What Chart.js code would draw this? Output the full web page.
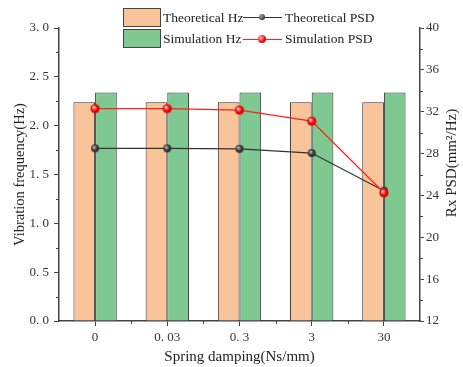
<!DOCTYPE html>
<html>
<head>
<meta charset="utf-8">
<script src="https://cdn.jsdelivr.net/npm/chart.js@4/dist/chart.umd.min.js"></script>
<style>
  html, body { margin: 0; padding: 0; background: #fff; }
  #wrap { position: relative; width: 463px; height: 367px; }
  #c { position: absolute; left: 0; top: 0; }
  .lg { position: absolute; font-family: "Liberation Serif", "Times New Roman", serif; font-size: 13.5px; color: #222; white-space: nowrap; line-height: 18px; }
  .box { position: absolute; width: 36px; height: 17px; border: 1px solid #444; }
  .ln { position: absolute; height: 0; width: 39px; }
  .dot { position: absolute; border-radius: 50%; }
</style>
</head>
<body>
<div id="wrap">
  <canvas id="c" width="463" height="367"></canvas>
  <div class="box" style="left:123px;top:8px;background:#F8C49A;"></div>
  <div class="lg" style="left:163px;top:9px;">Theoretical Hz</div>
  <div class="ln" style="left:243px;top:17px;border-top:1.2px solid #333;"></div>
  <div class="dot" style="left:259px;top:14px;width:6px;height:6px;background:radial-gradient(circle at 35% 35%,#aaa,#333 70%);"></div>
  <div class="lg" style="left:285px;top:9px;">Theoretical PSD</div>
  <div class="box" style="left:123px;top:29px;background:#7FC892;"></div>
  <div class="lg" style="left:163px;top:30px;">Simulation Hz</div>
  <div class="ln" style="left:243px;top:39px;border-top:1.2px solid #f22;"></div>
  <div class="dot" style="left:258px;top:35px;width:8px;height:8px;background:radial-gradient(circle at 35% 35%,#fbb,#e00 60%);"></div>
  <div class="lg" style="left:285px;top:30px;">Simulation PSD</div>
</div>
<script>
// ---- data ----
const categories = ['0', '0. 03', '0. 3', '3', '30'];
const theoreticalHz = [2.24, 2.24, 2.24, 2.24, 2.24];
const simulationHz = [2.34, 2.34, 2.34, 2.34, 2.34];
const theoreticalPSD = [28.5, 28.5, 28.45, 28.05, 24.45];
const simulationPSD = [32.3, 32.3, 32.15, 31.1, 24.25];
const leftTickLabels = ['0. 0', '0. 5', '1. 0', '1. 5', '2. 0', '2. 5', '3. 0'];
const rightTickLabels = ['12', '16', '20', '24', '28', '32', '36', '40'];

function sphere(r, light, dark) {
  const s = Math.ceil(r * 2) + 2;
  const cv = document.createElement('canvas');
  cv.width = s; cv.height = s;
  const g = cv.getContext('2d');
  const c = s / 2;
  const grd = g.createRadialGradient(c - r * 0.35, c - r * 0.35, 0.5, c, c, r);
  grd.addColorStop(0, light);
  grd.addColorStop(0.6, dark);
  grd.addColorStop(1, dark);
  g.fillStyle = grd;
  g.beginPath(); g.arc(c, c, r, 0, Math.PI * 2); g.fill();
  return cv;
}
const graySphere = sphere(4, '#bbbbbb', '#333333');
const redSphere = sphere(4.6, '#ffcccc', '#e60000');

const AX = '#444';
const tickFont = { family: '"Liberation Serif", "Times New Roman", serif', size: 13 };
const titleFont = { family: '"Liberation Serif", "Times New Roman", serif', size: 14.5 };

const minorTicks = {
  id: 'minorTicks',
  afterDraw(chart) {
    const ctx = chart.ctx;
    const x = chart.scales.x, y = chart.scales.y, y2 = chart.scales.y2;
    const ca = chart.chartArea;
    ctx.save();
    ctx.strokeStyle = AX;
    ctx.lineWidth = 1;
    ctx.beginPath();
    for (let v = 0.25; v < 3; v += 0.5) {
      const p = Math.round(y.getPixelForValue(v)) + 0.5;
      ctx.moveTo(ca.left - 3, p); ctx.lineTo(ca.left, p);
    }
    for (let v = 14; v < 40; v += 4) {
      const p = Math.round(y2.getPixelForValue(v)) + 0.5;
      ctx.moveTo(ca.right, p); ctx.lineTo(ca.right + 3, p);
    }
    for (let i = 0; i < categories.length - 1; i++) {
      const p = Math.round(x.getPixelForValue(i + 0.5)) + 0.5;
      ctx.moveTo(p, ca.bottom); ctx.lineTo(p, ca.bottom + 3);
    }
    ctx.stroke();
    // right axis title (reads bottom to top)
    ctx.fillStyle = '#222';
    ctx.font = '15px "Liberation Serif", "Times New Roman", serif';
    ctx.textAlign = 'center';
    ctx.textBaseline = 'middle';
    ctx.translate(452, 163);
    ctx.rotate(-Math.PI / 2);
    ctx.fillText('Rx PSD(mm\u00B2/Hz)', 0, 0);
    ctx.restore();
  }
};

new Chart(document.getElementById('c'), {
  data: {
    labels: categories,
    datasets: [
      { type: 'line', label: 'Simulation PSD', data: simulationPSD, yAxisID: 'y2', order: 0,
        borderColor: '#ff2020', borderWidth: 1.3, pointStyle: redSphere, pointRadius: 5,
        tension: 0 },
      { type: 'line', label: 'Theoretical PSD', data: theoreticalPSD, yAxisID: 'y2', order: 1,
        borderColor: '#333333', borderWidth: 1.2, pointStyle: graySphere, pointRadius: 4,
        tension: 0 },
      { type: 'bar', label: 'Theoretical Hz', data: theoreticalHz, yAxisID: 'y', order: 2,
        backgroundColor: '#F8C49A', borderColor: '#333', borderWidth: 1,
        categoryPercentage: 0.6, barPercentage: 1.0 },
      { type: 'bar', label: 'Simulation Hz', data: simulationHz, yAxisID: 'y', order: 2,
        backgroundColor: '#7FC892', borderColor: '#333', borderWidth: 1,
        categoryPercentage: 0.6, barPercentage: 1.0 }
    ]
  },
  options: {
    responsive: false,
    animation: false,
    layout: { padding: { top: 28, left: 0, right: 0, bottom: 0 } },
    plugins: { legend: { display: false }, tooltip: { enabled: false } },
    scales: {
      x: {
        type: 'category', offset: true,
        grid: { display: true, offset: false, drawOnChartArea: false, drawTicks: true, tickLength: 5, color: AX },
        border: { display: true, color: AX, width: 1.5 },
        ticks: { font: tickFont, color: '#333', padding: 4, maxRotation: 0 },
        title: { display: true, text: 'Spring damping(Ns/mm)', font: { family: titleFont.family, size: 15 }, color: '#222', padding: { top: 0, bottom: 1 } },
        afterFit(s) { s.height = 46; }
      },
      y: {
        type: 'linear', position: 'left', min: 0, max: 3,
        grid: { display: true, drawOnChartArea: false, drawTicks: true, tickLength: 5, color: AX },
        border: { display: true, color: AX, width: 1.5 },
        ticks: { stepSize: 0.5, font: tickFont, color: '#333', padding: 5,
          callback: (v, i) => leftTickLabels[i] },
        title: { display: true, text: 'Vibration frequency(Hz)', font: titleFont, color: '#222', padding: { top: 11, bottom: 0 } },
        afterFit(s) { s.width = 59; }
      },
      y2: {
        type: 'linear', position: 'right', min: 12, max: 40,
        grid: { display: true, drawOnChartArea: false, drawTicks: true, tickLength: 4, color: AX },
        border: { display: true, color: AX, width: 1.5 },
        ticks: { stepSize: 4, font: tickFont, color: '#333', padding: 2,
          callback: (v, i) => rightTickLabels[i] },
        afterFit(s) { s.width = 43; }
      }
    }
  },
  plugins: [minorTicks]
});
</script>
</body>
</html>
